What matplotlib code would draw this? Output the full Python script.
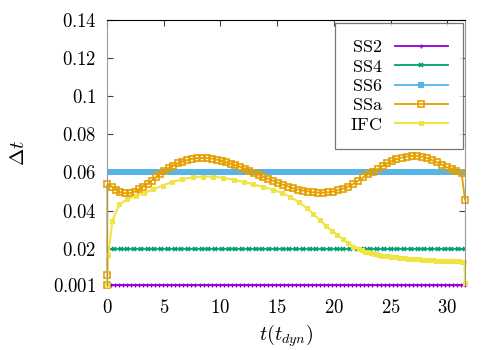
import numpy as np
import matplotlib
matplotlib.use("Agg")
import matplotlib.pyplot as plt

plt.rcParams['mathtext.fontset'] = 'cm'
plt.rcParams['font.family'] = 'DejaVu Serif'

# constant time steps
ss2_dt = 0.001
ss4_dt = 0.02
ss6_dt = 0.06

# adaptive SSa
ssa_t = [0, 0.01, 0.03, 0.41, 0.79, 1.15, 1.59, 2.03, 2.47, 2.85, 3.2, 3.58, 3.94, 4.32, 4.67,
         5.05, 5.43, 5.84, 6.23, 6.6, 7.02, 7.46, 7.9, 8.34, 8.78, 9.22, 9.66, 10.1, 10.48, 10.9,
         11.28, 11.72, 12.16, 12.54, 12.95, 13.39, 13.77, 14.21, 14.65, 15.1, 15.53, 15.97, 16.41,
         16.85, 17.3, 17.74, 18.18, 18.6, 19.06, 19.5, 19.94, 20.38, 20.82, 21.26, 21.7, 22.15,
         22.6, 23.0, 23.46, 23.9, 24.29, 24.7, 25.1, 25.5, 25.96, 26.4, 26.85, 27.29, 27.73, 28.17,
         28.6, 29.05, 29.5, 29.93, 30.37, 30.8, 31.25, 31.55]
ssa_dt = [0.001, 0.0062, 0.0538, 0.0526, 0.0508, 0.0496, 0.0491, 0.0491, 0.05, 0.0512, 0.0526,
          0.054, 0.0557, 0.0575, 0.0592, 0.061, 0.0624, 0.0636, 0.0648, 0.0657, 0.0664, 0.0671,
          0.0675, 0.0676, 0.0675, 0.0673, 0.0667, 0.066, 0.0654, 0.0646, 0.0638, 0.063, 0.0618,
          0.0608, 0.0597, 0.0589, 0.0578, 0.0566, 0.0556, 0.0545, 0.0535, 0.0526, 0.0517, 0.051,
          0.0505, 0.05, 0.0496, 0.0494, 0.0494, 0.0496, 0.05, 0.0507, 0.0515, 0.0526, 0.054,
          0.0557, 0.0575, 0.059, 0.0604, 0.0618, 0.0634, 0.0648, 0.0659, 0.0669, 0.0678, 0.0683,
          0.0687, 0.0687, 0.0683, 0.0676, 0.0666, 0.0654, 0.0641, 0.0627, 0.0617, 0.0606, 0.0596,
          0.0456]

# IFC
ifc_t = [0, 0.12, 0.47, 1.09, 1.79, 2.55, 3.29, 4.08, 4.9, 5.73, 6.6, 7.58, 8.49, 9.37, 10.25,
         11.19, 12.07, 12.89, 13.77, 14.6, 15.39, 16.12, 16.89, 17.59, 18.18, 18.77, 19.3, 19.82,
         20.3, 20.77, 21.27, 21.7, 22.2,
         22.5, 22.75, 23.0, 23.25, 23.5, 23.75, 24.0, 24.25, 24.5, 24.75, 25.0, 25.25, 25.5,
         25.75, 26.0, 26.25, 26.5, 26.75, 27.0, 27.25, 27.5, 27.75, 28.0, 28.25, 28.5, 28.75,
         29.0, 29.25, 29.5, 29.75, 30.0, 30.25, 30.5, 30.75, 31.0, 31.25, 31.5, 31.55]
ifc_dt = [0.001, 0.0167, 0.0347, 0.0433, 0.046, 0.0477, 0.0491, 0.0512, 0.0531, 0.055, 0.0564,
          0.0575, 0.0578, 0.0577, 0.0572, 0.0561, 0.055, 0.0538, 0.0524, 0.051, 0.0494, 0.0473,
          0.0445, 0.0414, 0.0382, 0.035, 0.0319, 0.0295, 0.0272, 0.025, 0.0229, 0.0211, 0.0197,
          0.0191, 0.0185, 0.0181, 0.0177, 0.0173, 0.0170, 0.0167, 0.0164, 0.0162, 0.0160, 0.0158,
          0.0156, 0.0154, 0.0152, 0.0151, 0.0149, 0.0148, 0.0147, 0.0146, 0.0145, 0.0144, 0.0143,
          0.0142, 0.0141, 0.0140, 0.0139, 0.0138, 0.0137, 0.0137, 0.0136, 0.0135, 0.0135, 0.0134,
          0.0133, 0.0133, 0.0132, 0.0132, 0.002]

xticks = [0, 5, 10, 15, 20, 25, 30]
yticks = [0.001, 0.02, 0.04, 0.06, 0.08, 0.1, 0.12, 0.14]
ytick_labels = ['0.001', '0.02', '0.04', '0.06', '0.08', '0.1', '0.12', '0.14']

t_end = 31.55
t2 = np.linspace(0, t_end, 90)
t4 = np.linspace(0, t_end, 54)
t6 = np.linspace(0, t_end, 200)

fig = plt.figure(figsize=(5, 3.5), dpi=100)
ax = fig.add_axes([0.214, 0.186, 0.716, 0.757])

ax.plot(t2, [ss2_dt] * len(t2), color='#9400d3', marker='+', ms=3.5, mew=1, lw=1.3,
        label=r'$\mathrm{SS2}$', clip_on=False)
ax.plot(t4, [ss4_dt] * len(t4), color='#009e73', marker='x', ms=3, mew=1.2, lw=1.3,
        label=r'$\mathrm{SS4}$')
ax.plot(t6, [ss6_dt] * len(t6), color='#56b4e9', marker='s', ms=3.8, mew=0, lw=1.3,
        label=r'$\mathrm{SS6}$')
ax.plot(ssa_t, ssa_dt, color='#e69f00', marker='s', ms=4, mfc='none', mew=1.2, lw=1.3,
        label=r'$\mathrm{SSa}$', clip_on=False)
ax.plot(ifc_t, ifc_dt, color='#f0e442', marker='s', ms=3.6, mew=0, lw=1.5,
        label=r'$\mathrm{IFC}$', clip_on=False)

ax.set_xlim(0, t_end)
ax.set_ylim(0.001, 0.14)
ax.set_xticks(xticks)
ax.set_xticklabels([f'${v}$' for v in xticks])
ax.set_yticks(yticks)
ax.set_yticklabels([f'${s}$' for s in ytick_labels])
ax.tick_params(direction='in', length=4, width=0.8, labelsize=13.5, top=True, right=True,
               color='#444444')
ax.tick_params(axis='y', pad=7.5)
ax.tick_params(axis='x', bottom=False, pad=10)
for side in ['left', 'right']:
    ax.spines[side].set_color('#999999')
ax.spines['top'].set_color('black')
ax.spines['bottom'].set_visible(False)

ax.set_xlabel(r'$t(t_{dyn})$', fontsize=14.5, labelpad=4)
ax.set_ylabel(r'$\Delta t$', fontsize=15, labelpad=18)

leg = ax.legend(loc='upper right', bbox_to_anchor=(0.926, 0.934), bbox_transform=fig.transFigure,
                borderaxespad=0, markerfirst=False, fancybox=False, numpoints=1,
                fontsize=13, handlelength=2.9, labelspacing=0.07, borderpad=0.85,
                handletextpad=0.7)
leg.get_frame().set_edgecolor('#555555')
leg.get_frame().set_linewidth(0.9)

fig.savefig('out.png', dpi=100)
